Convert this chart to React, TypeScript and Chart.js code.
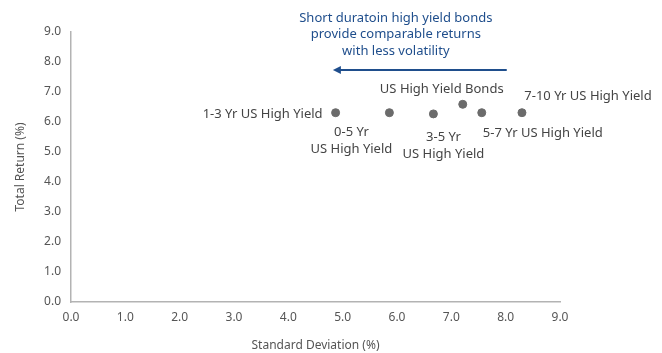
import React, { useEffect, useRef } from "react";
import { Chart, registerables } from "chart.js";

Chart.register(...registerables);

// Risk / return of US high yield bond segments
const seriesNames = [
  "1-3 Yr US High Yield",
  "0-5 Yr US High Yield",
  "3-5 Yr US High Yield",
  "US High Yield Bonds",
  "5-7 Yr US High Yield",
  "7-10 Yr US High Yield",
];
const standardDeviation = [4.87, 5.86, 6.67, 7.21, 7.56, 8.3];
const totalReturn = [6.31, 6.31, 6.27, 6.59, 6.31, 6.31];

// Text lines shown next to each point
const pointLabelLines = [
  ["1-3 Yr US High Yield"],
  ["0-5 Yr", "US High Yield"],
  ["3-5 Yr", "US High Yield"],
  ["US High Yield Bonds"],
  ["5-7 Yr US High Yield"],
  ["7-10 Yr US High Yield"],
];

const calloutLines = [
  "Short duratoin high yield bonds",
  "provide comparable returns",
  "with less volatility",
];
// Arrow runs from higher to lower volatility
const arrowFromX = 8.02;
const arrowToX = 4.82;
const arrowY = 7.73;

const axisMin = 0;
const axisMax = 9;
const axisStep = 1;

// Label placement: pixel offset from the point, text alignment
const labelLayout = [
  { dx: -13, dy: 2, align: "right" },
  { dx: -38, dy: 20, align: "center" },
  { dx: 10, dy: 23, align: "center" },
  { dx: -21, dy: -15, align: "center" },
  { dx: 61, dy: 21, align: "center" },
  { dx: 66, dy: -16, align: "center" },
] as const;

const FONT = "'Noto Sans', 'Open Sans', sans-serif";
const LABEL_COLOR = "#444444";
const NAVY = "#1f4e8c";

const labelPlugin = {
  id: "pointLabels",
  afterDatasetsDraw(chart: any) {
    const ctx = chart.ctx;
    const meta = chart.getDatasetMeta(0);
    ctx.save();
    ctx.font = `13px ${FONT}`;
    ctx.fillStyle = LABEL_COLOR;
    ctx.textBaseline = "middle";
    meta.data.forEach((el: any, i: number) => {
      const lay = labelLayout[i];
      ctx.textAlign = lay.align;
      pointLabelLines[i].forEach((line, j) => {
        ctx.fillText(line, el.x + lay.dx, el.y + lay.dy + j * 17);
      });
    });

    // Callout with arrow
    const xs = chart.scales.x;
    const ys = chart.scales.y;
    const x1 = xs.getPixelForValue(arrowFromX);
    const x2 = xs.getPixelForValue(arrowToX);
    const ay = ys.getPixelForValue(arrowY);
    ctx.strokeStyle = NAVY;
    ctx.fillStyle = NAVY;
    ctx.lineWidth = 2;
    ctx.beginPath();
    ctx.moveTo(x1, ay);
    ctx.lineTo(x2 + 6, ay);
    ctx.stroke();
    ctx.beginPath();
    ctx.moveTo(x2, ay);
    ctx.lineTo(x2 + 8, ay - 4);
    ctx.lineTo(x2 + 8, ay + 4);
    ctx.closePath();
    ctx.fill();

    ctx.textAlign = "center";
    const cx = (x1 + x2) / 2 - 24;
    calloutLines.forEach((line, j) => {
      ctx.fillText(line, cx, ay - 52 + j * 16.5);
    });
    ctx.restore();
  },
};

export default function App() {
  const canvasRef = useRef<HTMLCanvasElement | null>(null);

  useEffect(() => {
    if (!canvasRef.current) return;
    const chart = new Chart(canvasRef.current, {
      type: "scatter",
      data: {
        datasets: [
          {
            label: "Risk / return",
            data: standardDeviation.map((x, i) => ({ x, y: totalReturn[i] })),
            backgroundColor: "#6b6b6b",
            borderColor: "#6b6b6b",
            pointRadius: 4,
            pointHoverRadius: 4,
          },
        ],
      },
      options: {
        animation: false,
        responsive: true,
        maintainAspectRatio: false,
        layout: { padding: { top: 32, right: 102, bottom: 0, left: 0 } },
        plugins: {
          legend: { display: false },
          tooltip: { enabled: false },
        },
        scales: {
          x: {
            type: "linear",
            min: axisMin,
            max: axisMax,
            ticks: {
              stepSize: axisStep,
              callback: (v: any) => Number(v).toFixed(1),
              color: "#555555",
              font: { family: FONT, size: 12 },
              padding: 8,
            },
            grid: { display: false, drawTicks: false },
            border: { color: "#b3b3b3", width: 1.5 },
            title: {
              display: true,
              text: "Standard Deviation (%)",
              color: "#555555",
              font: { family: FONT, size: 12 },
              padding: { top: 14, bottom: 0 },
            },
            afterFit: (scale: any) => {
              scale.height = 51;
            },
          },
          y: {
            type: "linear",
            min: axisMin,
            max: axisMax,
            ticks: {
              stepSize: axisStep,
              callback: (v: any) => Number(v).toFixed(1),
              color: "#555555",
              font: { family: FONT, size: 12 },
              padding: 10,
            },
            grid: { display: false, drawTicks: false },
            border: { color: "#b3b3b3", width: 1.5 },
            title: {
              display: true,
              text: "Total Return (%)",
              color: "#555555",
              font: { family: FONT, size: 12 },
              padding: { top: 13, bottom: 8 },
            },
            afterFit: (scale: any) => {
              scale.width = 71;
            },
          },
        },
      },
      plugins: [labelPlugin],
    });
    return () => chart.destroy();
  }, []);

  return (
    <div style={{ position: "fixed", left: 0, top: 0, width: 662, height: 353, background: "#ffffff" }}>
      <canvas ref={canvasRef} />
    </div>
  );
}
